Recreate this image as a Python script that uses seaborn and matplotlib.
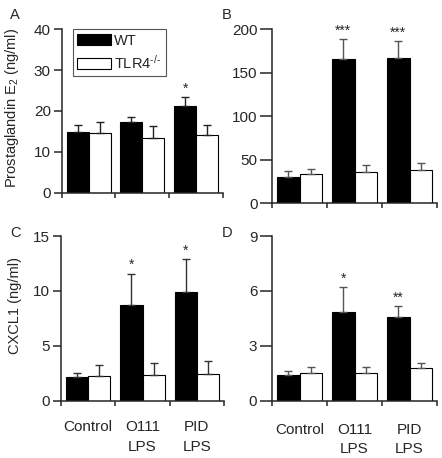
import numpy as np
import pandas as pd
import matplotlib
matplotlib.use("Agg")
import matplotlib.pyplot as plt
import seaborn as sns

# data
groups = ['Control', 'O111\nLPS', 'PID\nLPS']
genotypes = ['WT', 'TLR4$^{\\text{-/-}}$']

pge2_wt = [14.8, 17.4, 21.3]
pge2_wt_err = [1.7, 1.2, 2.0]
pge2_ko = [14.5, 13.5, 14.0]
pge2_ko_err = [2.9, 2.7, 2.5]
pge2_stars = ['', '', '*']

b_wt = [30.6, 165.5, 166.7]
b_wt_err = [6.9, 23.0, 19.5]
b_ko = [33.7, 36.4, 38.3]
b_ko_err = [6.1, 8.0, 8.4]
b_stars = ['', '***', '***']

cxcl1_wt = [2.19, 8.72, 9.94]
cxcl1_wt_err = [0.36, 2.86, 2.98]
cxcl1_ko = [2.25, 2.31, 2.40]
cxcl1_ko_err = [1.0, 1.15, 1.25]
cxcl1_stars = ['', '*', '*']

d_wt = [1.38, 4.86, 4.57]
d_wt_err = [0.26, 1.37, 0.58]
d_ko = [1.51, 1.53, 1.77]
d_ko_err = [0.31, 0.31, 0.31]
d_stars = ['', '*', '**']

sns.set_style('ticks')
plt.rcParams['font.family'] = ['Liberation Sans', 'DejaVu Sans']
plt.rcParams['mathtext.fontset'] = 'custom'
plt.rcParams['mathtext.rm'] = 'Liberation Sans'
plt.rcParams['mathtext.it'] = 'Liberation Sans:italic'
plt.rcParams['mathtext.bf'] = 'Liberation Sans:bold'
plt.rcParams['font.size'] = 11


def panel(ax, wt, wt_err, ko, ko_err, stars, yticks, ylabel, ecolor,
          ytick_len, show_x, legend=False, xpad=14):
    df = pd.DataFrame({
        'group': groups * 2,
        'genotype': [genotypes[0]] * 3 + [genotypes[1]] * 3,
        'value': wt + ko,
    })
    sns.barplot(data=df, x='group', y='value', hue='genotype',
                palette={genotypes[0]: 'black', genotypes[1]: 'white'},
                edgecolor='black', linewidth=0.8, errorbar=None,
                width=0.82, ax=ax, legend=legend)

    errs = [wt_err, ko_err]
    bar_conts = list(ax.containers)
    for i, cont in enumerate(bar_conts):
        xs = np.array([p.get_x() + p.get_width() / 2 for p in cont.patches])
        hs = np.array([p.get_height() for p in cont.patches])
        e = np.array(errs[i])
        ax.errorbar(xs, hs, yerr=[np.zeros_like(e), e], fmt='none',
                    ecolor=ecolor, elinewidth=1, capsize=3, capthick=1)
        if i == 0:
            for x, top, s in zip(xs, hs + e, stars):
                if s:
                    ax.annotate(s, (x, top), xytext=(0, 1),
                                textcoords='offset points', ha='center',
                                va='bottom', fontsize=10)

    ax.set_xlim(-0.5, 2.5)
    ax.set_ylim(yticks[0], yticks[-1])
    ax.set_yticks(yticks)
    ax.set_xlabel('')
    ax.set_ylabel(ylabel, fontsize=10.5)
    sns.despine(ax=ax)
    for s in ['left', 'bottom']:
        ax.spines[s].set_linewidth(1.1)
    ax.tick_params(axis='y', length=ytick_len, width=1.1, pad=2, labelsize=11)
    ax.tick_params(axis='x', which='major', length=0, pad=xpad, labelsize=11,
                   labelbottom=show_x)
    ax.set_xticks([-0.5, 0.5, 1.5, 2.5], minor=True)
    ax.tick_params(axis='x', which='minor', length=3.6, width=1.1,
                   direction='out')
    if show_x:
        for lbl in ax.get_xticklabels():
            lbl.set_linespacing(1.5)
    if legend:
        h, l = ax.get_legend_handles_labels()
        ax.legend(h, l, loc='upper left', bbox_to_anchor=(0.068, 1.0),
                  borderaxespad=0, fancybox=False, framealpha=1,
                  edgecolor='#555555', handlelength=2.3, handleheight=0.85,
                  labelspacing=0.4, borderpad=0.3, handletextpad=0.25,
                  fontsize=10.5)
        ax.get_legend().get_frame().set_linewidth(0.8)


fig = plt.figure(figsize=(4.42, 4.58), dpi=100)
axA = fig.add_axes([0.1396, 0.5793, 0.365, 0.3568])
axB = fig.add_axes([0.616, 0.5561, 0.3726, 0.3799])
axC = fig.add_axes([0.138, 0.1251, 0.3688, 0.3596])
axD = fig.add_axes([0.6154, 0.1251, 0.3733, 0.3596])

panel(axA, pge2_wt, pge2_wt_err, pge2_ko, pge2_ko_err, pge2_stars,
      [0, 10, 20, 30, 40], 'Prostaglandin E$_2$ (ng/ml)', '#222222', 5.8,
      False, legend=True)
panel(axB, b_wt, b_wt_err, b_ko, b_ko_err, b_stars,
      [0, 50, 100, 150, 200], '', '#555555', 8.6, False)
panel(axC, cxcl1_wt, cxcl1_wt_err, cxcl1_ko, cxcl1_ko_err, cxcl1_stars,
      [0, 5, 10, 15], 'CXCL1 (ng/ml)', '#333333', 5.8, True, xpad=14)
panel(axD, d_wt, d_wt_err, d_ko, d_ko_err, d_stars,
      [0, 3, 6, 9], '', '#555555', 8.6, True, xpad=16)

axA.yaxis.set_label_coords(-0.25, 0.52)
axC.yaxis.set_label_coords(-0.24, 0.58)

for txt, x, y in [('A', 10, 8), ('B', 222, 8), ('C', 10, 226), ('D', 222, 226)]:
    fig.text(x / 442, 1 - y / 458, txt, ha='left', va='top', fontsize=10.5)

fig.savefig('out.png', dpi=100)
